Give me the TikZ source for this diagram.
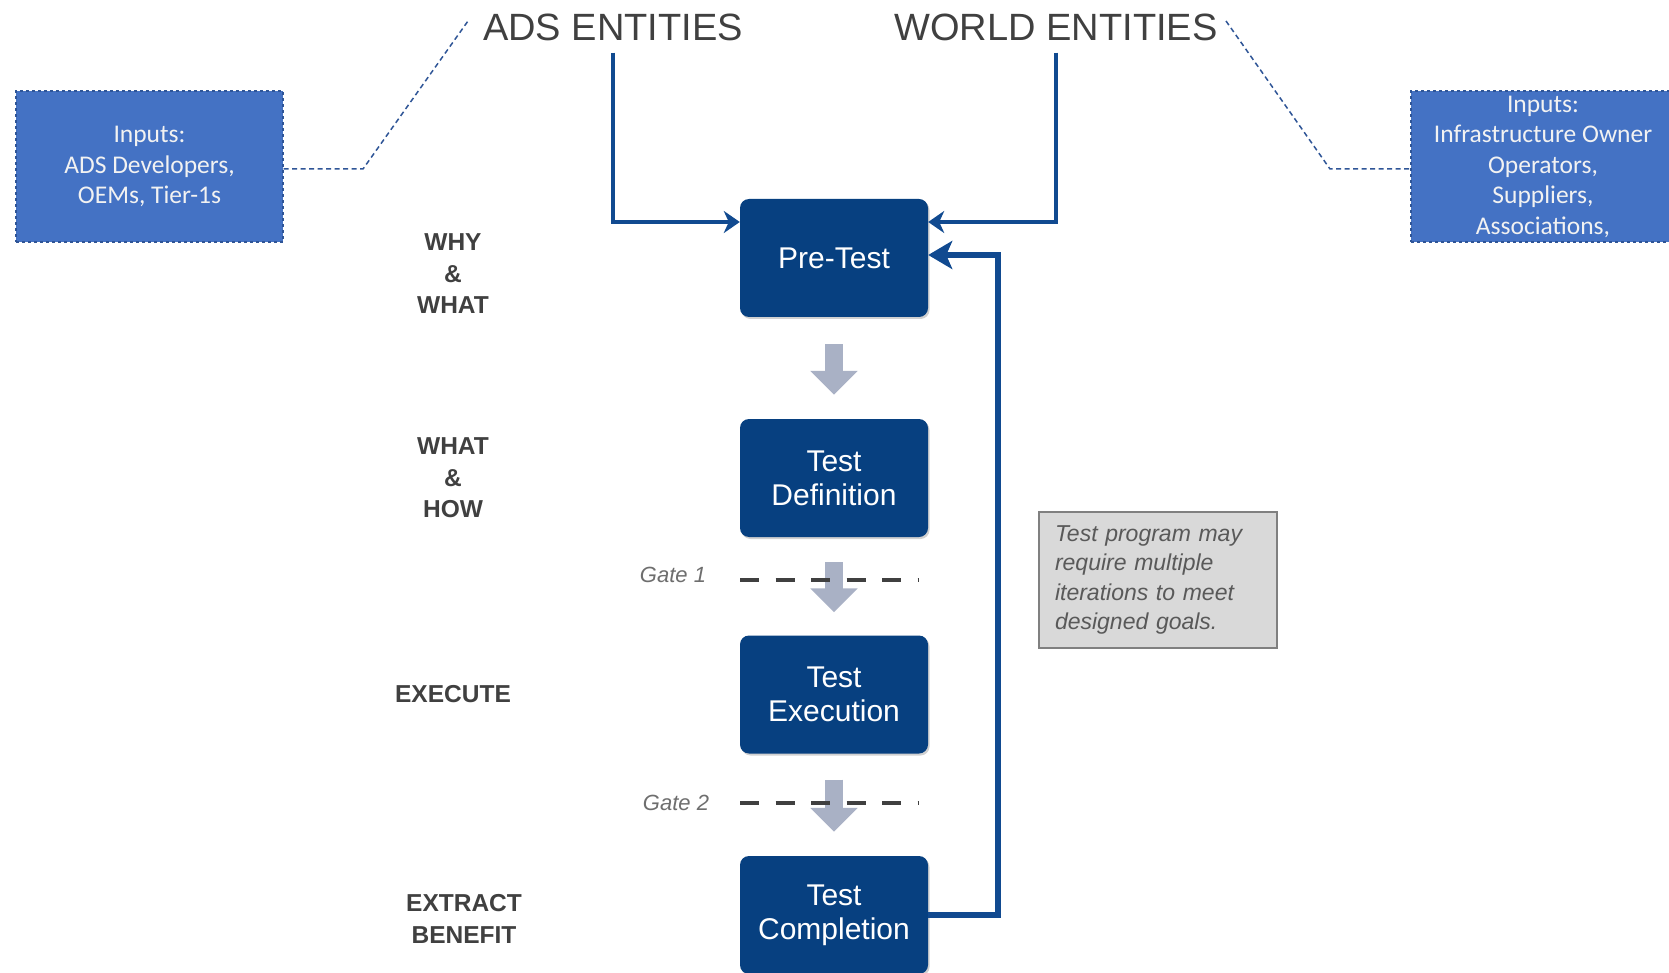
\documentclass[tikz,border=0pt]{standalone}
\usepackage{fontspec}
\setmainfont{Liberation Sans}
\newfontfamily\calib{Carlito}
\usetikzlibrary{arrows.meta,shadows}
\definecolor{boxblue}{RGB}{7,64,128}
\definecolor{connblue}{RGB}{17,74,144}
\definecolor{inputblue}{RGB}{68,114,196}
\definecolor{dashblue}{RGB}{47,85,151}
\definecolor{textgray}{RGB}{64,64,64}
\definecolor{gatetext}{RGB}{110,110,110}
\definecolor{arrowgray}{RGB}{169,177,197}
\definecolor{notefill}{RGB}{217,217,217}
\definecolor{noteborder}{RGB}{128,128,128}
\definecolor{notetext}{RGB}{89,89,89}
\begin{document}
\begin{tikzpicture}[x=1pt,y=-1pt,
  mainbox/.style={fill=boxblue, rounded corners=9pt, minimum width=188pt, minimum height=118pt,
    text=white, align=center, font=\fontsize{30}{34}\selectfont, inner sep=0pt,
    drop shadow={fill=black, opacity=0.18, shadow xshift=1.5pt, shadow yshift=-2pt}},
  inbox/.style={fill=inputblue, draw=dashblue, dashed, line width=1.2pt, text=white!95!black,
    align=center, font=\calib\fontsize{25.5}{30.5}\selectfont, minimum width=267pt,
    minimum height=151pt, inner sep=0pt},
  entity/.style={text=textgray, font=\fontsize{38}{44}\selectfont, inner sep=0pt},
  stagelabel/.style={text=textgray, align=center, font=\bfseries\fontsize{24.5}{31.5}\selectfont, inner sep=0pt},
  gatelabel/.style={text=gatetext, font=\itshape\fontsize{22}{26}\selectfont, inner sep=0pt},
  notebox/.style={draw=noteborder, line width=2pt, fill=notefill, minimum width=238pt, minimum height=136pt,
    text width=206pt, align=left, text=notetext, font=\itshape\fontsize{23}{29.5}\selectfont, inner sep=0pt},
  conn/.style={draw=connblue, line width=3.5pt, -{Stealth[length=16pt,width=22pt,inset=5pt]}},
  fb/.style={draw=connblue, line width=6pt, -{Stealth[length=24pt,width=28pt,inset=6pt]}},
  grayarr/.style={draw=arrowgray, line width=18pt, -{Triangle[length=24pt,width=46pt]}},
  gateline/.style={draw=textgray, line width=4pt, dash pattern=on 19pt off 16.5pt},
  dashconn/.style={draw=dashblue, line width=1.5pt, dash pattern=on 5pt off 3.5pt}]
\path[use as bounding box, fill=white] (0,0) rectangle (1669,973);
\clip (0,0) rectangle (1669,973);

% entities
\node[entity] (ads) at (613,27) {ADS ENTITIES};
\node[entity] (world) at (1056,27) {WORLD ENTITIES};

% input boxes
\node[inbox] (inL) at (149.5,166.5) {Inputs:\\ADS Developers,\\OEMs, Tier-1s};
\node[inbox, minimum width=264pt] (inR) at (1543,166.5) {Inputs:\\Infrastructure Owner\\Operators,\\Suppliers,\\Associations,};

\coordinate (dl1) at (363,169);
\coordinate (dl2) at (468,21);
\coordinate (dr1) at (1226,21);
\coordinate (dr2) at (1330,169);
\draw[dashconn] (inL.east |- dl1) -- (dl1) -- (dl2);
\draw[dashconn] (dr1) -- (dr2) -- (inR.west |- dr2);

% stage labels
\node[stagelabel] (s1) at (453,274) {WHY\\\&\\WHAT};
\node[stagelabel] (s2) at (453,478) {WHAT\\\&\\HOW};
\node[stagelabel] (s3) at (453,694) {EXECUTE};
\node[stagelabel] (s4) at (464,919) {EXTRACT\\BENEFIT};

% main boxes
\node[mainbox] (pre) at (834,258) {Pre-Test};
\node[mainbox] (def) at (834,478) {Test\\Definition};
\node[mainbox] (exe) at (834,694.5) {Test\\Execution};
\node[mainbox] (comp) at (834,915) {Test\\Completion};

% gray flow arrows
\draw[grayarr] ([yshift=-27pt]pre.south) -- ([yshift=24pt]def.north);
\draw[grayarr] ([yshift=-25pt]def.south) -- ([yshift=23pt]exe.north);
\draw[grayarr] ([yshift=-26pt]exe.south) -- ([yshift=24pt]comp.north);

% gates
\coordinate (g1a) at (740,580);
\coordinate (g1b) at (918,580);
\coordinate (g2a) at (740,803);
\coordinate (g2b) at (918,803);
\draw[gateline] (g1a) -- (g1b);
\draw[gateline] (g2a) -- (g2b);
\node[gatelabel] (gate1) at (673,575) {Gate 1};
\node[gatelabel] (gate2) at (676,803) {Gate 2};

% entity connectors
\draw[conn, shorten <=12pt] (ads.south) |- ([yshift=36pt]pre.west);
\draw[conn, shorten <=12pt] (world.south) |- ([yshift=36pt]pre.east);

% feedback loop
\coordinate (loop) at (998,255);
\draw[fb] (comp.east) -| (loop) -- (pre.east |- loop);

% note
\node[notebox] (note) at (1158,580) {Test program may\\require multiple\\iterations to meet\\designed goals.};
\end{tikzpicture}
\end{document}
